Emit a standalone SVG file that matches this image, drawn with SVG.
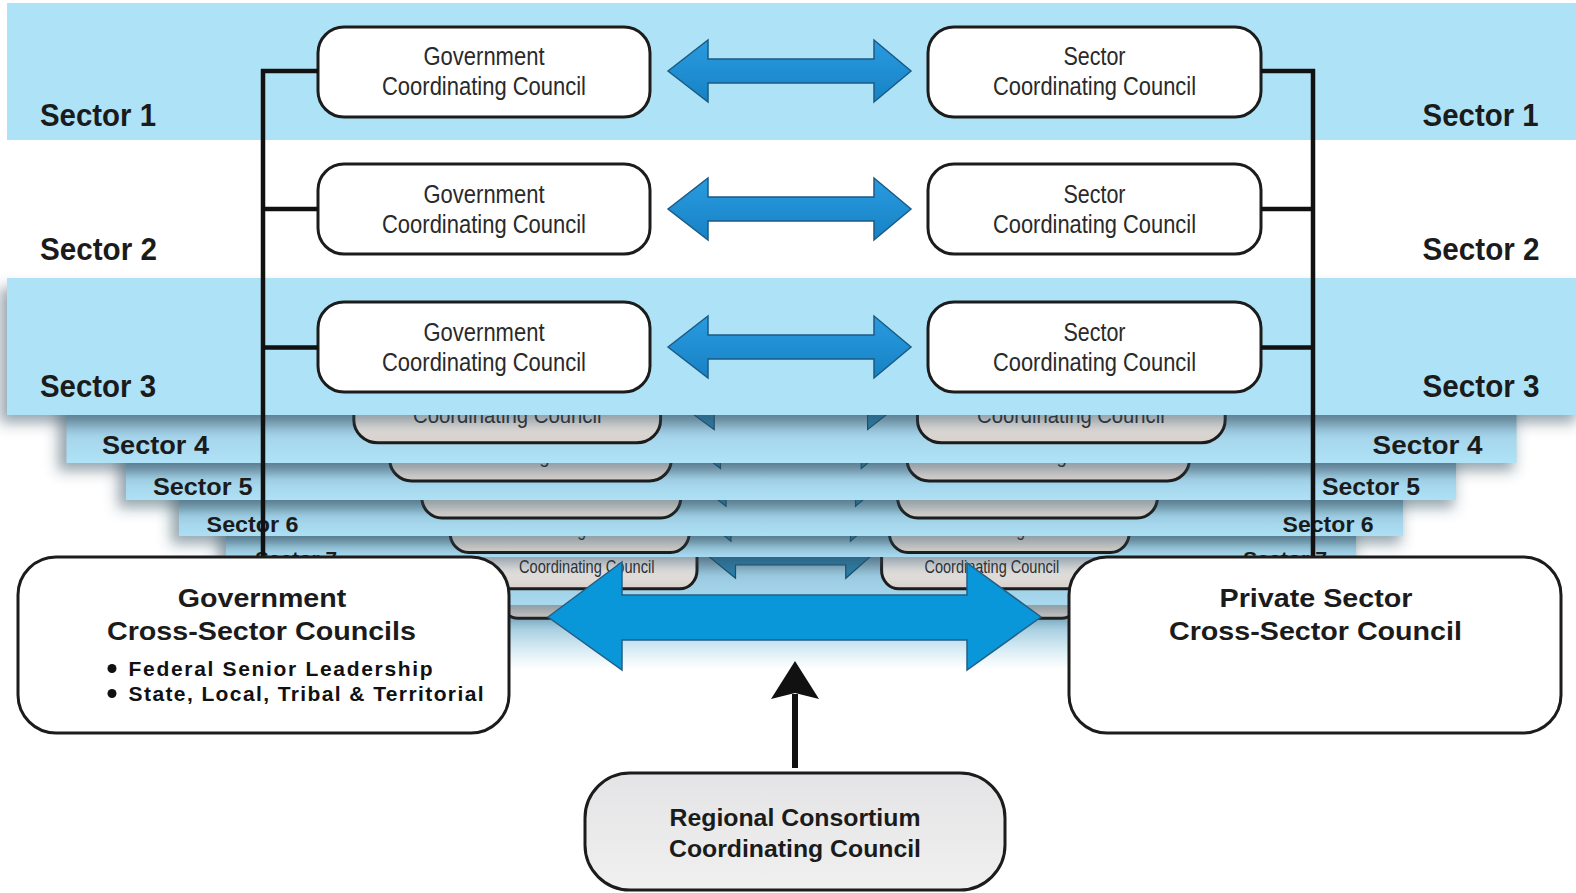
<svg xmlns="http://www.w3.org/2000/svg" width="1576" height="893" viewBox="0 0 1576 893">
<style>
.band{fill:#aee3f7}
.shadow{fill:#34505f;fill-opacity:0.5}
.box{fill:#fff;stroke:#1c1c1c;stroke-width:3}
.boxLow{fill:url(#lowBoxGrad);stroke:#1c1c1c;stroke-width:3;vector-effect:non-scaling-stroke}
.arr{fill:url(#arrGrad);stroke:#1b5b86;stroke-width:1.5}
.arrLow{fill:#2b7ea8;stroke:#1b4f6b;stroke-width:1.2;vector-effect:non-scaling-stroke}
.cc{font-family:"Liberation Sans",Arial,sans-serif;font-size:25px;fill:#2a2a2a;text-anchor:middle}
.lbl{font-family:"Liberation Sans",Arial,sans-serif;font-weight:bold;fill:#1b1b1b}
.big{font-family:"Liberation Sans",Arial,sans-serif;font-weight:bold;font-size:25.6px;fill:#1b1b1b;text-anchor:middle}
.reg{font-family:"Liberation Sans",Arial,sans-serif;font-weight:bold;font-size:23px;fill:#1b1b1b;text-anchor:middle}
.bul{font-family:"Liberation Sans",Arial,sans-serif;font-weight:bold;font-size:21px;fill:#111}
.conn{stroke:#111;stroke-width:4.5;fill:none}
.bigBox{fill:#fff;stroke:#1c1c1c;stroke-width:3}
</style>
<defs>
  <linearGradient id="lowBoxGrad" x1="0" y1="0" x2="0" y2="1">
    <stop offset="0" stop-color="#ffffff"/>
    <stop offset="0.6" stop-color="#efedeb"/>
    <stop offset="1" stop-color="#d6d0cb"/>
  </linearGradient>
  <linearGradient id="arrGrad" x1="0" y1="0" x2="0" y2="1">
    <stop offset="0" stop-color="#2a9be0"/>
    <stop offset="1" stop-color="#1682c4"/>
  </linearGradient>
  <linearGradient id="g4" gradientUnits="userSpaceOnUse" x1="0" y1="415" x2="0" y2="463">
    <stop offset="0" stop-color="#87adc1"/><stop offset="0.45" stop-color="#a5d5eb"/><stop offset="1" stop-color="#b0e3f7"/>
  </linearGradient>
  <linearGradient id="g5" gradientUnits="userSpaceOnUse" x1="0" y1="463" x2="0" y2="500">
    <stop offset="0" stop-color="#82a8bc"/><stop offset="0.45" stop-color="#a3d3e9"/><stop offset="1" stop-color="#aee1f5"/>
  </linearGradient>
  <linearGradient id="g6" gradientUnits="userSpaceOnUse" x1="0" y1="500" x2="0" y2="536">
    <stop offset="0" stop-color="#80a6ba"/><stop offset="0.45" stop-color="#a1d1e7"/><stop offset="1" stop-color="#ade0f4"/>
  </linearGradient>
  <linearGradient id="g7" gradientUnits="userSpaceOnUse" x1="0" y1="536" x2="0" y2="557">
    <stop offset="0" stop-color="#7fa4b8"/><stop offset="0.5" stop-color="#9ecde3"/><stop offset="1" stop-color="#aadcf1"/>
  </linearGradient>
  <linearGradient id="g8" gradientUnits="userSpaceOnUse" x1="0" y1="557" x2="0" y2="605">
    <stop offset="0" stop-color="#7ea2b6"/><stop offset="0.4" stop-color="#9ccbe1"/><stop offset="1" stop-color="#a8daef"/>
  </linearGradient>
  <linearGradient id="g9" gradientUnits="userSpaceOnUse" x1="0" y1="605" x2="0" y2="668">
    <stop offset="0" stop-color="#7c9fb3"/><stop offset="0.4" stop-color="#98c6dc"/><stop offset="1" stop-color="#a6d7ec"/>
  </linearGradient>
  <linearGradient id="fade" x1="0" y1="0" x2="0" y2="1">
    <stop offset="0" stop-color="#fff" stop-opacity="0"/>
    <stop offset="1" stop-color="#fff" stop-opacity="1"/>
  </linearGradient>
  <linearGradient id="regGrad" x1="0" y1="0" x2="0" y2="1">
    <stop offset="0" stop-color="#e4e4e6"/>
    <stop offset="1" stop-color="#f0f0f0"/>
  </linearGradient>
  <filter id="blur" x="-10%" y="-50%" width="120%" height="200%">
    <feGaussianBlur stdDeviation="7"/>
  </filter>
  <clipPath id="c4"><rect x="0" y="415" width="1576" height="478"/></clipPath>
  <clipPath id="c5"><rect x="0" y="463" width="1576" height="430"/></clipPath>
  <clipPath id="c7"><rect x="0" y="536" width="1576" height="357"/></clipPath>
  <clipPath id="c8"><rect x="0" y="557" width="1576" height="336"/></clipPath>
  <clipPath id="c9"><rect x="0" y="605" width="1576" height="288"/></clipPath>
  <g id="lowBody">
    <rect class="boxLow" x="318" y="24" width="332" height="90" rx="26"/>
    <rect class="boxLow" x="928" y="24" width="333" height="90" rx="26"/>
    <path class="arrLow" d="M668,68 L708,37 L708,56 L874,56 L874,37 L911,68 L874,99 L874,80 L708,80 L708,99 Z"/>
    <text class="cc" x="484" y="62" textLength="121" lengthAdjust="spacingAndGlyphs">Government</text>
    <text class="cc" x="484" y="92" textLength="204" lengthAdjust="spacingAndGlyphs">Coordinating Council</text>
    <text class="cc" x="1094" y="62" textLength="62" lengthAdjust="spacingAndGlyphs">Sector</text>
    <text class="cc" x="1094" y="92" textLength="203" lengthAdjust="spacingAndGlyphs">Coordinating Council</text>
  </g>
  <g id="lowBoxes">
    <rect class="boxLow" x="318" y="24" width="332" height="90" rx="26"/>
    <rect class="boxLow" x="928" y="24" width="333" height="90" rx="26"/>
    <path class="arrLow" d="M668,68 L708,37 L708,56 L874,56 L874,37 L911,68 L874,99 L874,80 L708,80 L708,99 Z"/>
  </g>
</defs>

<rect width="1576" height="893" fill="#fff"/>

<!-- stacked lower sector layers (back to front) -->
<g id="layer-9">
  <rect x="312" y="543" width="958" height="125" fill="url(#g9)"/>
  <g clip-path="url(#c9)"><use href="#lowBody" transform="translate(308.1,543) scale(0.61,0.66)"/></g>
</g>
<g id="layer-8">
  <rect class="shadow" x="262" y="519" width="1050" height="94" filter="url(#blur)"/>
  <rect x="270" y="509" width="1042" height="96" fill="url(#g8)"/>
  <g clip-path="url(#c8)"><use href="#lowBody" transform="translate(265.4,509) scale(0.664,0.7)"/></g>
</g>
<rect x="440" y="621" width="700" height="48" fill="url(#fade)"/>
<g id="layer-7">
  <rect class="shadow" x="218" y="477" width="1136" height="88" filter="url(#blur)"/>
  <rect x="226" y="467" width="1130" height="90" fill="url(#g7)"/>
  <g clip-path="url(#c7)"><use href="#lowBody" transform="translate(221.2,467) scale(0.72,0.75)"/></g>
  <text class="lbl" x="255" y="566" font-size="20" textLength="82" lengthAdjust="spacingAndGlyphs">Sector 7</text>
  <text class="lbl" x="1243" y="566" font-size="20" textLength="84" lengthAdjust="spacingAndGlyphs">Sector 7</text>
</g>
<g id="layer-6">
  <rect class="shadow" x="171" y="438" width="1230" height="106" filter="url(#blur)"/>
  <rect x="179" y="428" width="1224" height="108" fill="url(#g6)"/>
  <use href="#lowBoxes" transform="translate(173.8,428) scale(0.78,0.79)"/>
  <text class="lbl" x="206.6" y="531.5" font-size="21.5" textLength="92" lengthAdjust="spacingAndGlyphs">Sector 6</text>
  <text class="lbl" x="1282.6" y="531.5" font-size="21.5" textLength="91" lengthAdjust="spacingAndGlyphs">Sector 6</text>
</g>
<g id="layer-5">
  <rect class="shadow" x="118" y="396" width="1336" height="112" filter="url(#blur)"/>
  <rect x="126" y="386" width="1330" height="114" fill="url(#g5)"/>
  <g clip-path="url(#c5)"><use href="#lowBody" transform="translate(120.1,386) scale(0.848,0.833)"/></g>
  <text class="lbl" x="153" y="495" font-size="23" textLength="99.5" lengthAdjust="spacingAndGlyphs">Sector 5</text>
  <text class="lbl" x="1322" y="495" font-size="23" textLength="98" lengthAdjust="spacingAndGlyphs">Sector 5</text>
</g>
<g id="layer-4">
  <rect class="shadow" x="58" y="353" width="1456" height="118" filter="url(#blur)"/>
  <rect x="66.5" y="343" width="1450" height="120" fill="url(#g4)"/>
  <g clip-path="url(#c4)"><use href="#lowBody" transform="translate(60,343) scale(0.924,0.875)"/></g>
  <text class="lbl" x="102" y="454" font-size="26.5" textLength="107" lengthAdjust="spacingAndGlyphs">Sector 4</text>
  <text class="lbl" x="1372.6" y="454" font-size="26.5" textLength="110" lengthAdjust="spacingAndGlyphs">Sector 4</text>
</g>

<!-- Sector 3 -->
<g id="layer-3">
  <rect class="shadow" x="0" y="288" width="1576" height="135" filter="url(#blur)"/>
  <rect class="band" x="7" y="278" width="1569" height="137"/>
  <text class="lbl" x="40" y="396.5" font-size="31" textLength="116" lengthAdjust="spacingAndGlyphs">Sector 3</text>
  <text class="lbl" x="1422.6" y="396.5" font-size="31" textLength="117" lengthAdjust="spacingAndGlyphs">Sector 3</text>
</g>
<g id="gcc-3">
  <rect class="box" x="318" y="302" width="332" height="90" rx="26"/>
  <text class="cc" x="484" y="341" textLength="121" lengthAdjust="spacingAndGlyphs">Government</text>
  <text class="cc" x="484" y="371" textLength="204" lengthAdjust="spacingAndGlyphs">Coordinating Council</text>
</g>
<g id="scc-3">
  <rect class="box" x="928" y="302" width="333" height="90" rx="26"/>
  <text class="cc" x="1094.5" y="341" textLength="62" lengthAdjust="spacingAndGlyphs">Sector</text>
  <text class="cc" x="1094.5" y="371" textLength="203" lengthAdjust="spacingAndGlyphs">Coordinating Council</text>
</g>

<!-- Sector 2 (white band) -->
<g id="layer-2">
  <text class="lbl" x="40" y="260" font-size="31" textLength="117" lengthAdjust="spacingAndGlyphs">Sector 2</text>
  <text class="lbl" x="1422.6" y="260" font-size="31" textLength="117" lengthAdjust="spacingAndGlyphs">Sector 2</text>
</g>
<g id="gcc-2">
  <rect class="box" x="318" y="164" width="332" height="90" rx="26"/>
  <text class="cc" x="484" y="203" textLength="121" lengthAdjust="spacingAndGlyphs">Government</text>
  <text class="cc" x="484" y="233" textLength="204" lengthAdjust="spacingAndGlyphs">Coordinating Council</text>
</g>
<g id="scc-2">
  <rect class="box" x="928" y="164" width="333" height="90" rx="26"/>
  <text class="cc" x="1094.5" y="203" textLength="62" lengthAdjust="spacingAndGlyphs">Sector</text>
  <text class="cc" x="1094.5" y="233" textLength="203" lengthAdjust="spacingAndGlyphs">Coordinating Council</text>
</g>

<!-- Sector 1 -->
<g id="layer-1">
  <rect class="band" x="7" y="3" width="1569" height="137"/>
  <text class="lbl" x="40" y="126" font-size="31" textLength="116" lengthAdjust="spacingAndGlyphs">Sector 1</text>
  <text class="lbl" x="1422.6" y="126" font-size="31" textLength="116" lengthAdjust="spacingAndGlyphs">Sector 1</text>
</g>
<g id="gcc-1">
  <rect class="box" x="318" y="27" width="332" height="90" rx="26"/>
  <text class="cc" x="484" y="65" textLength="121" lengthAdjust="spacingAndGlyphs">Government</text>
  <text class="cc" x="484" y="95" textLength="204" lengthAdjust="spacingAndGlyphs">Coordinating Council</text>
</g>
<g id="scc-1">
  <rect class="box" x="928" y="27" width="333" height="90" rx="26"/>
  <text class="cc" x="1094.5" y="65" textLength="62" lengthAdjust="spacingAndGlyphs">Sector</text>
  <text class="cc" x="1094.5" y="95" textLength="203" lengthAdjust="spacingAndGlyphs">Coordinating Council</text>
</g>

<!-- connectors -->
<g id="connectors">
  <path class="conn" d="M263,69 V557 M261,71 H318 M261,209 H318 M261,347.5 H318"/>
  <path class="conn" d="M1313,69 V557 M1261,71 H1315 M1261,209 H1315 M1261,347.5 H1315"/>
  <path class="arr" d="M668,71 L708,40 L708,59 L874,59 L874,40 L911,71 L874,102 L874,83 L708,83 L708,102 Z"/>
  <path class="arr" d="M668,209 L708,178 L708,197 L874,197 L874,178 L911,209 L874,240 L874,221 L708,221 L708,240 Z"/>
  <path class="arr" d="M668,347 L708,316 L708,335 L874,335 L874,316 L911,347 L874,378 L874,359 L708,359 L708,378 Z"/>
  <path d="M548,617 L622,562 L622,595 L967,595 L967,563 L1041,617 L967,670 L967,640 L622,640 L622,670 Z" fill="#0a97da" stroke="#245f85" stroke-width="1.5"/>
  <path d="M795,768 V694" stroke="#111" stroke-width="6" fill="none"/>
  <path d="M795,661 L819,699 L795,693 L771,699 Z" fill="#111"/>
</g>

<!-- bottom nodes -->
<g id="gov-cross-sector">
  <rect class="bigBox" x="18" y="557" width="491" height="176" rx="38"/>
  <text class="big" x="262" y="607" textLength="168.5" lengthAdjust="spacingAndGlyphs">Government</text>
  <text class="big" x="261.5" y="640" textLength="309" lengthAdjust="spacingAndGlyphs">Cross-Sector Councils</text>
  <circle cx="112" cy="668.5" r="4.5" fill="#111"/>
  <text class="bul" x="128.6" y="675.7" textLength="304" lengthAdjust="spacing">Federal Senior Leadership</text>
  <circle cx="112" cy="693.5" r="4.5" fill="#111"/>
  <text class="bul" x="128.6" y="700.7" textLength="355" lengthAdjust="spacing">State, Local, Tribal &amp; Territorial</text>
</g>
<g id="private-cross-sector">
  <rect class="bigBox" x="1069" y="557" width="492" height="176" rx="38"/>
  <text class="big" x="1316" y="607" textLength="193" lengthAdjust="spacingAndGlyphs">Private Sector</text>
  <text class="big" x="1315.5" y="640" textLength="293" lengthAdjust="spacingAndGlyphs">Cross-Sector Council</text>
</g>
<g id="regional-consortium">
  <rect x="585" y="773" width="420" height="117" rx="45" fill="url(#regGrad)" stroke="#1c1c1c" stroke-width="3"/>
  <text class="reg" x="795" y="826" textLength="251" lengthAdjust="spacingAndGlyphs">Regional Consortium</text>
  <text class="reg" x="795" y="857" textLength="252" lengthAdjust="spacingAndGlyphs">Coordinating Council</text>
</g>
</svg>
